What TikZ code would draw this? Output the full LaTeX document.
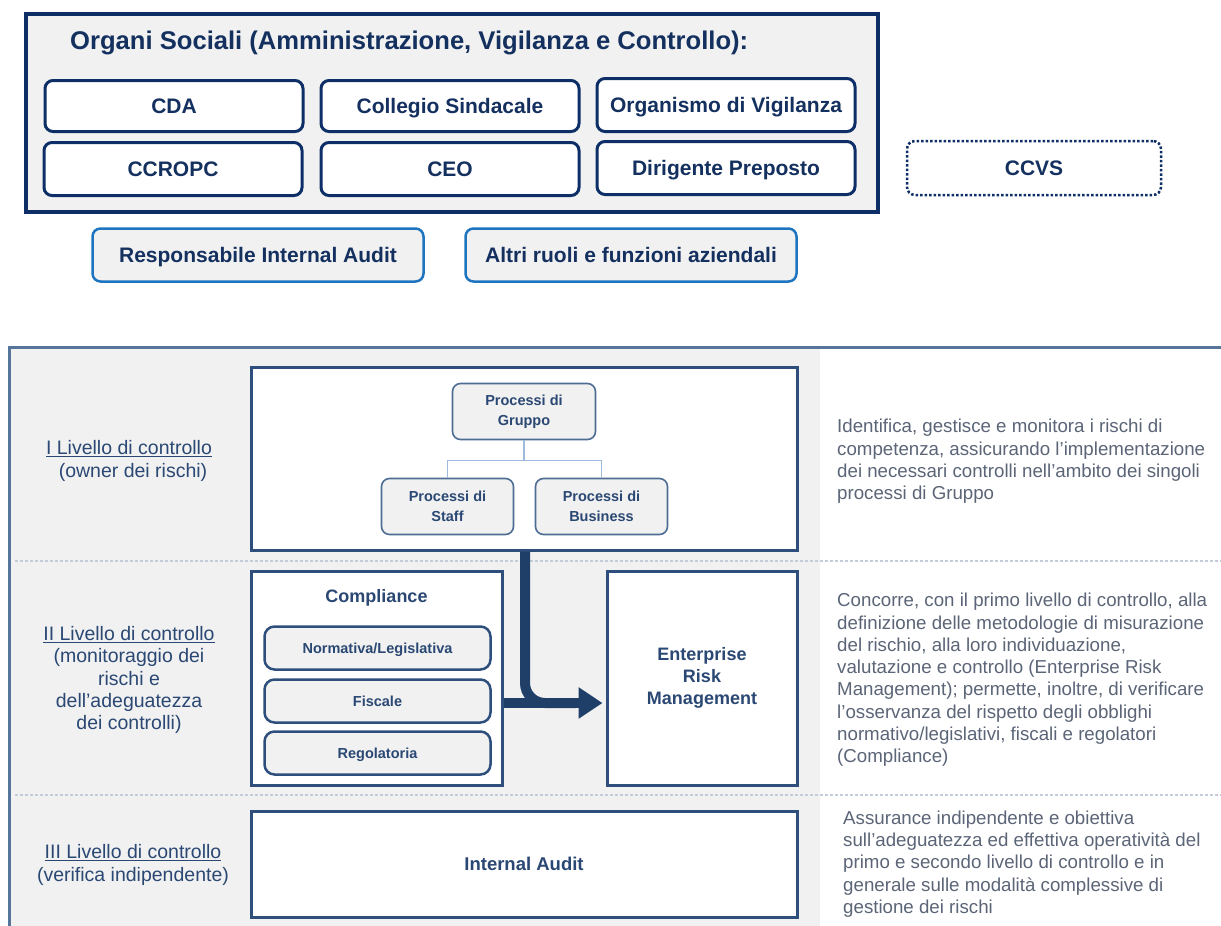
\documentclass[tikz,border=0pt]{standalone}
\usepackage{fontspec}
\setmainfont{Liberation Sans}
\usetikzlibrary{arrows.meta}
\definecolor{navy}{HTML}{0D2E66}
\definecolor{navytext}{HTML}{14305F}
\definecolor{topfill}{HTML}{F1F1F1}
\definecolor{rblue}{HTML}{1E74BF}
\definecolor{bborder}{HTML}{2E4F7C}
\definecolor{lbltext}{HTML}{2A4873}
\definecolor{desctext}{HTML}{5B6577}
\definecolor{connc}{HTML}{9DB9DC}
\definecolor{arrowc}{HTML}{203F68}
\definecolor{sepc}{HTML}{C3CDDA}
\definecolor{framec}{HTML}{56759B}
\definecolor{pboxborder}{HTML}{4D6D95}
\tikzset{
  orgframe/.style={draw=navy, line width=4.5pt, fill=topfill, inner sep=0pt},
  topbox/.style={draw=navy, line width=3pt, fill=white, rounded corners=8pt, inner sep=0pt,
    font=\fontsize{21}{25}\selectfont\bfseries, text=navytext, minimum width=258pt, minimum height=51pt,
    text height=15pt, text depth=0pt},
  rolebox/.style={draw=rblue, line width=2.5pt, fill=topfill, rounded corners=8pt, inner sep=0pt,
    font=\fontsize{21}{25}\selectfont\bfseries, text=navytext, minimum width=331pt, minimum height=53pt,
    text height=15pt, text depth=0pt},
  ccvsbox/.style={draw=navy, line width=2.5pt, dotted, rounded corners=8pt, inner sep=0pt,
    font=\fontsize{21}{25}\selectfont\bfseries, text=navytext, minimum width=254pt, minimum height=54pt,
    text height=15pt, text depth=0pt},
  levbox/.style={draw=bborder, line width=3pt, fill=white, inner sep=0pt, text=lbltext},
  procbox/.style={draw=pboxborder, line width=1.6pt, fill=topfill, rounded corners=8pt, inner sep=0pt,
    align=center, font=\fontsize{14.5}{19.5}\selectfont\bfseries, text=lbltext, minimum width=132pt, minimum height=56pt},
  compbox/.style={draw=bborder, line width=2.5pt, fill=topfill, rounded corners=10pt, inner sep=0pt,
    font=\fontsize{14.5}{18}\selectfont\bfseries, text=lbltext, minimum width=226pt, minimum height=43pt,
    text height=10.5pt, text depth=0pt},
  lvllabel/.style={align=center, inner sep=0pt, text=lbltext, font=\fontsize{19.5}{22.3}\selectfont},
  desc/.style={align=left, inner sep=0pt, anchor=west, text=desctext, font=\fontsize{18.7}{22.3}\selectfont},
  conn/.style={draw=connc, line width=1.6pt},
  bigarrow/.style={draw=arrowc, line width=10pt},
  sepline/.style={draw=sepc, line width=1.2pt, dash pattern=on 3pt off 2pt}
}
\begin{document}
\begin{tikzpicture}[x=1pt,y=-1pt]
\useasboundingbox (0,0) rectangle (1221,926);

% ---------- top part ----------
\node[orgframe, minimum width=852pt, minimum height=198pt] (orgs) at (452,113) {};
\node[anchor=west, inner sep=0pt, text=navytext, font=\fontsize{25.6}{30}\selectfont\bfseries] (title) at (70,43)
  {Organi Sociali (Amministrazione, Vigilanza e Controllo):};

\node[topbox] (cda) at (174,106) {CDA};
\node[topbox] (col) at (450,106) {Collegio Sindacale};
\node[topbox, minimum height=53pt] (odv) at (726,105) {Organismo di Vigilanza};
\node[topbox, minimum height=53pt] (ccropc) at (173,169) {CCROPC};
\node[topbox, minimum height=53pt] (ceo) at (450,169) {CEO};
\node[topbox, minimum height=53pt] (dp) at (726,168) {Dirigente Preposto};
\node[ccvsbox] (ccvs) at (1034,168) {CCVS};

\node[rolebox] (ria) at (258,255) {Responsabile Internal Audit};
\node[rolebox] (altri) at (631,255) {Altri ruoli e funzioni aziendali};

% ---------- bottom part ----------
\fill[topfill] (9,347) rectangle (1221,926);
\fill[white] (820,349) rectangle (1221,926);
\draw[framec, line width=3pt] (9,926) -- (9,347) -- (1221,347);
\draw[sepline] (15,561) -- (1221,561);
\draw[sepline] (15,795) -- (1221,795);

% Level I
\node[levbox, minimum width=546pt, minimum height=183pt] (lvl1) at (524,458.5) {};
\node[procbox, minimum width=143pt] (grp) at (524,411.5) {Processi di\\Gruppo};
\node[procbox] (staff) at (447.5,506.5) {Processi di\\Staff};
\node[procbox] (bus) at (601.5,506.5) {Processi di\\Business};
\draw[conn] (grp.south) -- ++(0,20) coordinate (junc);
\draw[conn] (junc) -| (staff.north);
\draw[conn] (junc) -| (bus.north);

% Level II
\node[levbox, minimum width=251pt, minimum height=214pt] (comp) at (376.5,678) {};
\node[inner sep=0pt, text=lbltext, font=\fontsize{18}{22}\selectfont\bfseries] (complabel) at (376.5,598) {Compliance};
\node[compbox] (norm) at (377.5,648) {Normativa/Legislativa};
\node[compbox] (fisc) at (377.5,701) {Fiscale};
\node[compbox] (reg) at (377.5,753) {Regolatoria};
\node[levbox, align=center, minimum width=190pt, minimum height=214pt,
  font=\fontsize{18}{22.3}\selectfont\bfseries] (erm) at (702,678) {Enterprise\\Risk\\Management};

% Level III
\node[levbox, minimum width=546pt, minimum height=106pt,
  font=\fontsize{18.5}{22}\selectfont\bfseries] (ia) at (524,864) {Internal Audit};

% big arrow
\coordinate (arrx) at (525,0);
\coordinate (arry) at (0,703);
\draw[bigarrow, rounded corners=20pt] (lvl1.south -| arrx) -- (arrx |- arry) -- ([xshift=-30pt]erm.west |- arry);
\draw[bigarrow, -{Triangle[length=24pt,width=30pt]}] (comp.east |- arry) -- ([xshift=-3pt]erm.west |- arry);

% level labels
\node[lvllabel] (l1) at (129,461) {\underline{I Livello di controllo}\\\hspace*{8pt}(owner dei rischi)};
\node[lvllabel] (l2) at (129,680) {\underline{II Livello di controllo}\\(monitoraggio dei\\rischi e\\dell'adeguatezza\\dei controlli)};
\node[lvllabel] (l3) at (133,865) {\underline{III Livello di controllo}\\(verifica indipendente)};

% descriptions
\node[desc] (d1) at (837,461.5) {Identifica, gestisce e monitora i rischi di\\competenza, assicurando l'implementazione\\dei necessari controlli nell'ambito dei singoli\\processi di Gruppo};
\node[desc] (d2) at (837,680) {Concorre, con il primo livello di controllo, alla\\definizione delle metodologie di misurazione\\del rischio, alla loro individuazione,\\valutazione e controllo (Enterprise Risk\\Management); permette, inoltre, di verificare\\l'osservanza del rispetto degli obblighi\\normativo/legislativi, fiscali e regolatori\\(Compliance)};
\node[desc] (d3) at (843,864) {Assurance indipendente e obiettiva\\sull'adeguatezza ed effettiva operatività del\\primo e secondo livello di controllo e in\\generale sulle modalità complessive di\\gestione dei rischi};
\end{tikzpicture}
\end{document}
